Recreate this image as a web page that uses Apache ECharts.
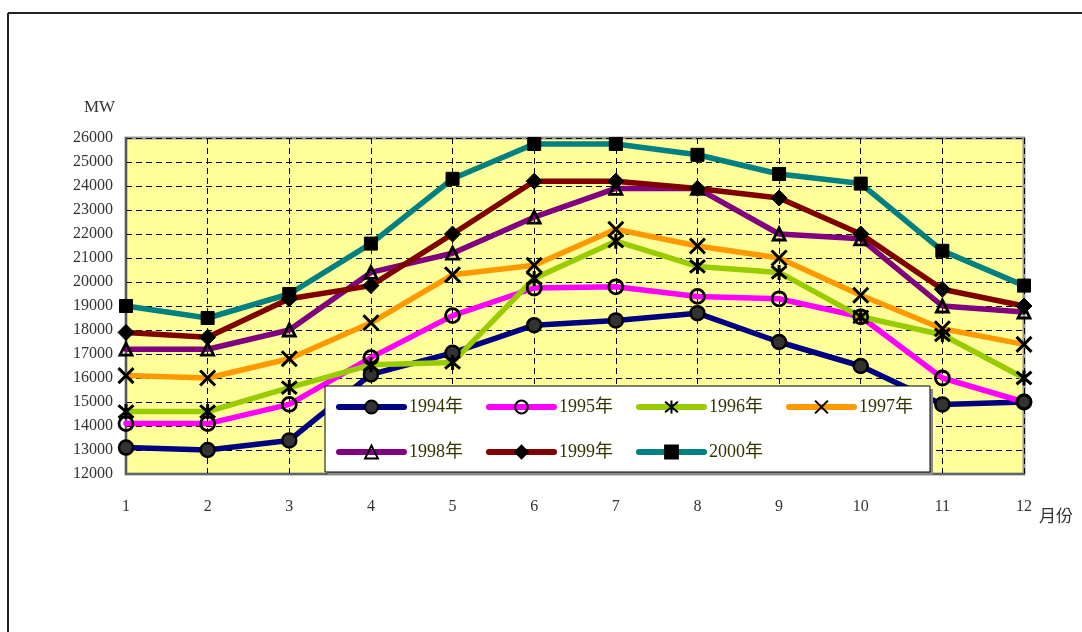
<!DOCTYPE html>
<html>
<head>
<meta charset="utf-8">
<script src="https://cdn.jsdelivr.net/npm/echarts@6/dist/echarts.min.js"></script>
<style>
  html, body { margin: 0; padding: 0; background: #fff; }
  #chart { width: 1082px; height: 632px; }
</style>
</head>
<body>
<div id="chart"></div>
<script>
// Monthly peak load (MW), 1994–2000
const months = ['1', '2', '3', '4', '5', '6', '7', '8', '9', '10', '11', '12'];
const yAxisTicks = { min: 12000, max: 26000, interval: 1000 };

const load1994 = [13100, 13000, 13400, 16150, 17050, 18200, 18400, 18700, 17500, 16500, 14900, 15000];
const load1995 = [14100, 14100, 14900, 16850, 18600, 19750, 19800, 19400, 19300, 18550, 16000, 15000];
const load1996 = [14600, 14600, 15600, 16550, 16650, 20150, 21700, 20650, 20400, 18550, 17800, 16000];
const load1997 = [16100, 16000, 16800, 18300, 20300, 20700, 22200, 21500, 21000, 19450, 18050, 17400];
const load1998 = [17200, 17200, 18000, 20400, 21200, 22700, 23900, 23900, 22000, 21800, 19000, 18750];
const load1999 = [17900, 17700, 19300, 19850, 22000, 24200, 24200, 23900, 23500, 22000, 19700, 19000];
const load2000 = [19000, 18500, 19500, 21600, 24300, 25750, 25750, 25300, 24500, 24100, 21300, 19850];

const seriesNames = ['1994年', '1995年', '1996年', '1997年', '1998年', '1999年', '2000年'];

const SERIF = '"Liberation Serif", "Noto Sans CJK TC", serif';

// marker shapes
const X_PATH = 'path://M0,0L10,10M10,0L0,10';
const STAR_PATH = 'path://M0,0L10,10M10,0L0,10M5,-1L5,11';

function makeSeries(name, data, color, symbol, size, fill, bw) {
  return {
    name: name,
    type: 'line',
    data: data,
    symbol: symbol,
    symbolSize: size,
    showAllSymbol: true,
    lineStyle: { color: color, width: 5.5, cap: 'round' },
    itemStyle: {
      color: fill,
      borderColor: '#000',
      borderWidth: bw
    },
    emphasis: { disabled: true },
    z: 2
  };
}

const series = [
  makeSeries(seriesNames[0], load1994, '#000080', 'circle', 14, '#333333', 2.5),
  makeSeries(seriesNames[1], load1995, '#FF00FF', 'circle', 14, 'rgba(0,0,0,0)', 2.8),
  makeSeries(seriesNames[2], load1996, '#99CC00', STAR_PATH, 15, '#000', 3),
  makeSeries(seriesNames[3], load1997, '#FF9900', X_PATH, 15, '#000', 3),
  makeSeries(seriesNames[4], load1998, '#800080', 'triangle', 12, 'rgba(0,0,0,0)', 2.8),
  makeSeries(seriesNames[5], load1999, '#800000', 'diamond', 16, '#000', 1),
  makeSeries(seriesNames[6], load2000, '#008080', 'rect', 13, '#000', 1)
];

const legendCommon = {
  left: 336,
  itemWidth: 65,
  itemHeight: 16,
  itemGap: 23,
  padding: 0,
  selectedMode: false,
  lineStyle: { width: 6, cap: 'round' },
  textStyle: { fontFamily: SERIF, fontSize: 18, color: '#333300' },
  z: 6
};

const chart = echarts.init(document.getElementById('chart'), null, { renderer: 'canvas' });

chart.setOption({
  animation: false,
  backgroundColor: '#ffffff',
  grid: {
    left: 126,
    right: 58,
    top: 138,
    bottom: 158,
    show: true,
    backgroundColor: '#FFFF99',
    borderColor: '#999999',
    borderWidth: 3
  },
  xAxis: {
    type: 'category',
    data: months,
    boundaryGap: false,
    axisLine: { show: true, lineStyle: { color: '#666', width: 2 } },
    axisTick: { show: false },
    axisLabel: { fontFamily: SERIF, fontSize: 16, color: '#333', margin: 25 },
    splitLine: { show: true, lineStyle: { color: '#000', type: [6, 4], width: 1 } }
  },
  yAxis: {
    type: 'value',
    min: yAxisTicks.min,
    max: yAxisTicks.max,
    interval: yAxisTicks.interval,
    axisLine: { show: true, lineStyle: { color: '#555', width: 2 } },
    axisTick: { show: false },
    axisLabel: {
      fontFamily: SERIF, fontSize: 16, color: '#333', margin: 13,
      formatter: function (v) { return String(v); }
    },
    splitLine: { show: true, lineStyle: { color: '#000', type: [6, 4], width: 1 } }
  },
  legend: [
    Object.assign({}, legendCommon, { top: 398, data: seriesNames.slice(0, 4) }),
    Object.assign({}, legendCommon, { top: 443, data: seriesNames.slice(4) })
  ],
  graphic: [
    // outer frame lines
    { type: 'line', shape: { x1: 8, y1: 13, x2: 1082, y2: 13 }, style: { stroke: '#222', lineWidth: 2 }, z: 1 },
    { type: 'line', shape: { x1: 8, y1: 13, x2: 8, y2: 632 }, style: { stroke: '#222', lineWidth: 2 }, z: 1 },
    // legend box with shadow
    { type: 'rect', shape: { x: 328, y: 389, width: 605, height: 86 }, style: { fill: '#888' }, z: 4 },
    { type: 'rect', shape: { x: 325, y: 386, width: 605, height: 86 }, style: { fill: '#fff', stroke: '#000', lineWidth: 1 }, z: 5 },
    // axis titles
    { type: 'text', left: 84, top: 99, style: { text: 'MW', font: '17px "Liberation Serif", serif', fill: '#333' }, z: 6 },
    { type: 'text', left: 1039, top: 507, style: { text: '月份', font: '17px "Noto Sans CJK TC", sans-serif', fill: '#333' }, z: 6 }
  ],
  series: series
});
</script>
</body>
</html>
